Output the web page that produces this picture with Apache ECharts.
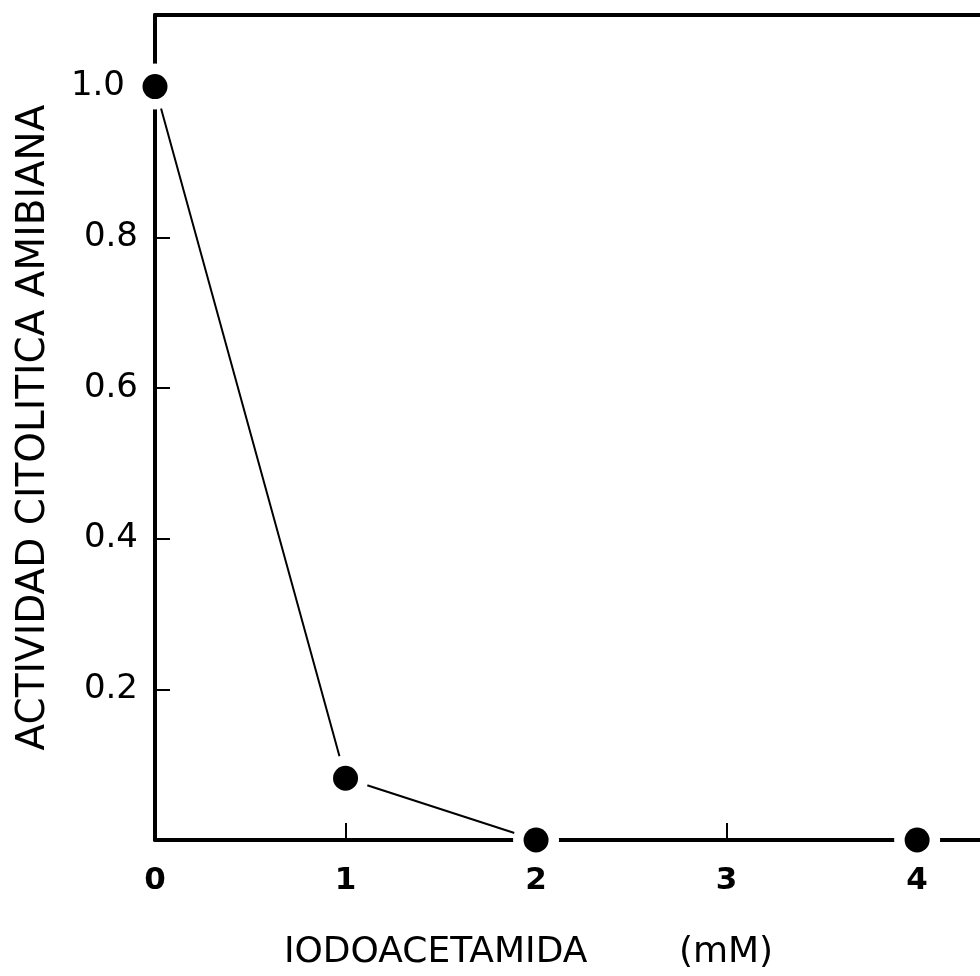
<!DOCTYPE html>
<html>
<head>
<meta charset="utf-8">
<script src="https://cdn.jsdelivr.net/npm/echarts@6/dist/echarts.min.js"></script>
<style>html,body{margin:0;padding:0;background:#fff;}#c{width:980px;height:976px;}</style>
</head>
<body>
<div id="c"></div>
<script>
// Data
const concentrations = [0, 1, 2, 4];          // Iodoacetamida (mM)
const activity = [1.0, 0.082, 0, 0];           // Actividad citolitica amibiana
const xTickValues = [0, 1, 2, 3, 4];
const xTickLabels = ['0', '1', '2', '3', '4'];
const yTickValues = [0.2, 0.4, 0.6, 0.8, 1.0];
const yTickLabels = ['0.2', '0.4', '0.6', '0.8', '1.0'];
const xName = 'IODOACETAMIDA        (mM)';
const yName = 'ACTIVIDAD CITOLITICA AMIBIANA';

const points = concentrations.map((x, i) => [x, activity[i]]);
const font = 'DejaVu Sans';

const chart = echarts.init(document.getElementById('c'), null, {renderer: 'canvas'});
chart.setOption({
  animation: false,
  backgroundColor: '#fff',
  grid: {left: 155, right: 0, top: 15, bottom: 134, containLabel: false},
  xAxis: [{
    type: 'value', min: 0, max: 4.33, position: 'bottom',
    splitLine: {show: false},
    axisLine: {show: true, onZero: false, lineStyle: {color: '#000', width: 4}},
    axisTick: {show: true, inside: true, length: 17, customValues: [1, 2, 3, 4], lineStyle: {color: '#000', width: 2}},
    axisLabel: {
      show: true, customValues: xTickValues, margin: 25,
      formatter: v => { const i = xTickValues.indexOf(Math.round(v * 100) / 100); return i >= 0 ? xTickLabels[i] : ''; },
      color: '#000', fontFamily: font, fontSize: 31, fontWeight: 'bold'
    },
    name: xName, nameLocation: 'middle', nameGap: 95,
    nameTextStyle: {color: '#000', fontFamily: font, fontSize: 36, padding: [0, 78, 0, 0]}
  }, {
    type: 'value', min: 0, max: 4.33, position: 'top',
    splitLine: {show: false},
    axisLine: {show: true, onZero: false, lineStyle: {color: '#000', width: 4}},
    axisTick: {show: false}, axisLabel: {show: false}
  }],
  yAxis: {
    type: 'value', min: 0, max: 1.095,
    splitLine: {show: false},
    axisLine: {show: true, onZero: false, lineStyle: {color: '#000', width: 4}},
    axisTick: {show: true, inside: true, length: 15, customValues: yTickValues, lineStyle: {color: '#000', width: 2}},
    axisLabel: {
      show: true, customValues: yTickValues, margin: 17,
      formatter: v => {
        const i = yTickValues.findIndex(t => Math.abs(t - v) < 1e-6);
        if (i < 0) return '';
        return i === yTickValues.length - 1 ? '{far|' + yTickLabels[i] + '}' : yTickLabels[i];
      },
      rich: {far: {padding: [0, 13, 0, 0], color: '#000', fontFamily: font, fontSize: 34}},
      color: '#000', fontFamily: font, fontSize: 34
    },
    name: yName, nameLocation: 'middle', nameGap: 102, nameRotate: 90,
    nameTextStyle: {color: '#000', fontFamily: font, fontSize: 39}
  },
  series: [{
    type: 'line', data: points, clip: false, z: 2,
    showSymbol: false, symbol: 'none',
    lineStyle: {color: '#000', width: 2}
  }, {
    type: 'scatter', data: points, clip: false, z: 3, silent: true,
    symbol: 'circle', symbolSize: 46,
    itemStyle: {color: '#fff', opacity: 1}
  }, {
    type: 'scatter', data: points, clip: false, z: 4,
    symbol: 'circle', symbolSize: 25,
    itemStyle: {color: '#000', opacity: 1}
  }]
});
</script>
</body>
</html>
